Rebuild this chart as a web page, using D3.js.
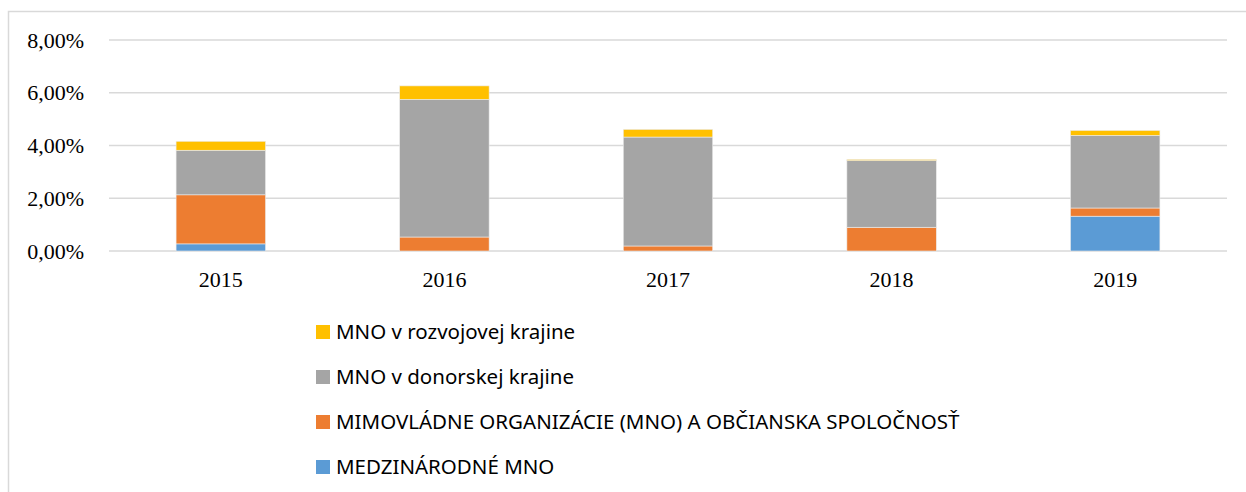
<!DOCTYPE html>
<html>
<head>
<meta charset="utf-8">
<script src="https://cdn.jsdelivr.net/npm/d3@7"></script>
<style>
  body { margin: 0; background: #fff; }
  svg { display: block; }
</style>
</head>
<body>
<div id="chart"></div>
<script>
// data (percent)
const years = ['2015', '2016', '2017', '2018', '2019'];
const medzinarodne = [0.27, 0.00, 0.00, 0.00, 1.32];
const mimovladne = [1.86, 0.53, 0.19, 0.90, 0.31];
const donorske = [1.69, 5.22, 4.13, 2.53, 2.75];
const rozvojove = [0.34, 0.51, 0.29, 0.04, 0.19];
const yTicks = [0, 2, 4, 6, 8];

const seriesNames = [
    'MEDZINÁRODNÉ MNO',
    'MIMOVLÁDNE ORGANIZÁCIE (MNO) A OBČIANSKA SPOLOČNOSŤ',
    'MNO v donorskej krajine',
    'MNO v rozvojovej krajine'
];
const seriesValues = [medzinarodne, mimovladne, donorske, rozvojove];
const colors = ['#5B9BD5', '#ED7D31', '#A5A5A5', '#FFC000'];

const width = 1246, height = 492;
const plot = { left: 109, right: 1227, top: 40, bottom: 251 };

const svg = d3.select('#chart').append('svg')
    .attr('width', width)
    .attr('height', height);

// outer chart frame
svg.append('rect')
    .attr('x', 8.5).attr('y', 11.5)
    .attr('width', 1260).attr('height', 500)
    .attr('fill', 'none')
    .attr('stroke', '#d9d9d9')
    .attr('stroke-width', 1.5);

const x = d3.scaleBand()
    .domain(years)
    .range([plot.left, plot.right])
    .paddingInner(0.6)
    .paddingOuter(0.3);

const y = d3.scaleLinear()
    .domain([0, 8])
    .range([plot.bottom, plot.top]);

// gridlines
svg.append('g')
    .selectAll('line')
    .data(yTicks)
    .enter()
    .append('line')
    .attr('x1', plot.left)
    .attr('x2', plot.right)
    .attr('y1', d => y(d))
    .attr('y2', d => y(d))
    .attr('stroke', '#d9d9d9')
    .attr('stroke-width', 1.6);

// y axis labels
const fmt = d => d.toFixed(2).replace('.', ',') + '%';
svg.append('g')
    .selectAll('text')
    .data(yTicks)
    .enter()
    .append('text')
    .attr('x', 84)
    .attr('y', d => y(d))
    .attr('dy', '0.35em')
    .attr('text-anchor', 'end')
    .attr('font-family', '"Liberation Serif", "Times New Roman", serif')
    .attr('font-size', 22)
    .attr('fill', '#000')
    .text(fmt);

// stacked bars
const rows = years.map((yr, i) => {
    const r = { year: yr };
    seriesNames.forEach((s, j) => { r[s] = seriesValues[j][i]; });
    return r;
});
const stacked = d3.stack().keys(seriesNames)(rows);

svg.append('g')
    .selectAll('g')
    .data(stacked)
    .enter()
    .append('g')
    .attr('fill', (d, i) => colors[i])
    .selectAll('rect')
    .data(d => d)
    .enter()
    .append('rect')
    .attr('x', d => x(d.data.year))
    .attr('width', x.bandwidth())
    .attr('y', d => y(d[1]))
    .attr('height', d => y(d[0]) - y(d[1]))
    .attr('stroke', '#ececec')
    .attr('stroke-width', 0.6);

// x axis labels
svg.append('g')
    .selectAll('text')
    .data(years)
    .enter()
    .append('text')
    .attr('x', d => x(d) + x.bandwidth() / 2)
    .attr('y', 287)
    .attr('text-anchor', 'middle')
    .attr('font-family', '"Liberation Serif", "Times New Roman", serif')
    .attr('font-size', 22)
    .attr('fill', '#000')
    .text(d => d);

// legend (top entry is the top series)
const legendOrder = [3, 2, 1, 0];
const legend = svg.append('g')
    .selectAll('g')
    .data(legendOrder)
    .enter()
    .append('g')
    .attr('transform', (d, i) => 'translate(316,' + (332 + i * 45) + ')');

legend.append('rect')
    .attr('x', 0)
    .attr('y', -7)
    .attr('width', 14)
    .attr('height', 14)
    .attr('fill', d => colors[d]);

legend.append('text')
    .attr('x', 20)
    .attr('y', 0)
    .attr('dy', '0.36em')
    .attr('font-family', '"Noto Sans", sans-serif')
    .attr('font-size', 20.5)
    .attr('fill', '#000')
    .text(d => seriesNames[d]);
</script>
</body>
</html>
